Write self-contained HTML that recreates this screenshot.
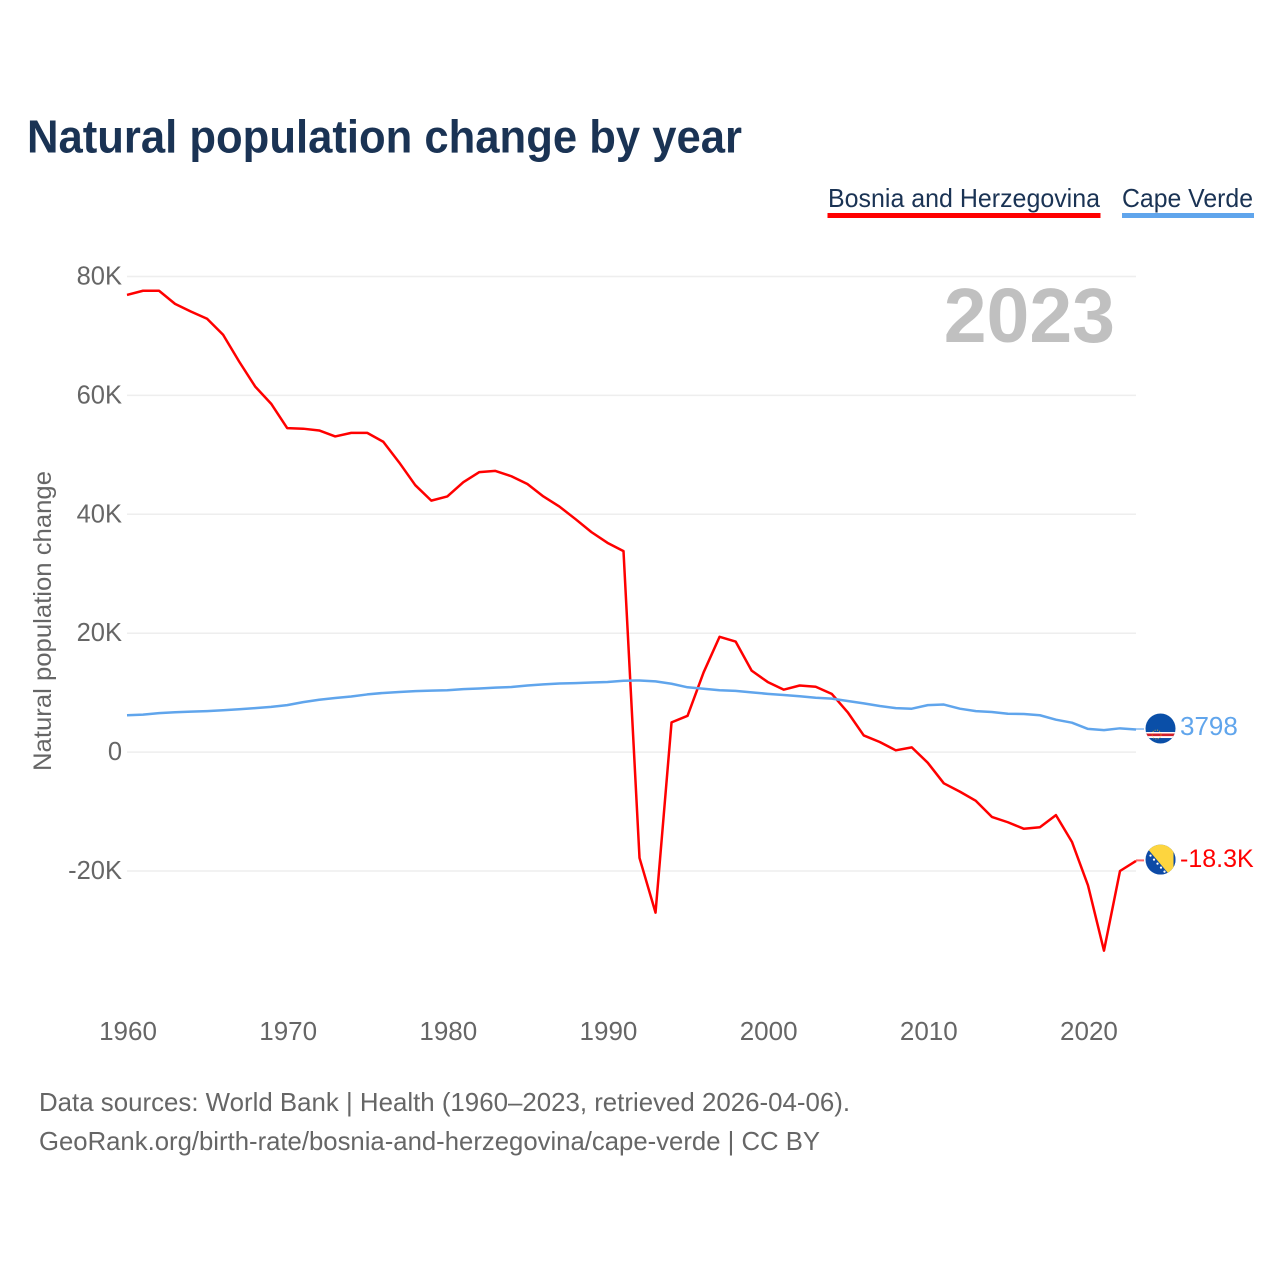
<!DOCTYPE html>
<html lang="en">
<head>
<meta charset="utf-8">
<title>Natural population change by year</title>
<style>
html,body{margin:0;padding:0;background:#fff;}
svg{display:block;}
text{font-family:"Liberation Sans",sans-serif;}
</style>
</head>
<body>
<svg id="chart" xmlns="http://www.w3.org/2000/svg" width="1280" height="1280" viewBox="0 0 1280 1280">
  <defs>
    <clipPath id="flag-clip"><circle cx="0" cy="0" r="15"/></clipPath>
  </defs>
  <rect width="1280" height="1280" fill="#ffffff"/>
  <text x="27" y="152.5" font-size="46" font-weight="700" fill="#1a3354" textLength="715" lengthAdjust="spacingAndGlyphs">Natural population change by year</text>

  <g>
    <text x="828" y="207" font-size="26" fill="#1a3354" textLength="272" lengthAdjust="spacingAndGlyphs">Bosnia and Herzegovina</text>
    <rect x="827.5" y="213" width="273" height="5" fill="#ff0000"/>
  </g>
  <g>
    <text x="1122" y="207" font-size="26" fill="#1a3354" textLength="131" lengthAdjust="spacingAndGlyphs">Cape Verde</text>
    <rect x="1122" y="213" width="132" height="5" fill="#60a5ec"/>
  </g>

  <g id="grid"></g>
  <g id="y-axis"></g>
  <g id="x-axis"></g>

  <text x="1115" y="342" font-size="77" font-weight="700" fill="#c0c0c0" text-anchor="end">2023</text>
  <text transform="translate(51,621) rotate(-90)" font-size="25" fill="#666666" text-anchor="middle" textLength="300" lengthAdjust="spacingAndGlyphs">Natural population change</text>

  <g id="series"></g>

  <g id="flag-cape-verde">
    <g clip-path="url(#flag-clip)">
      <rect x="-15" y="-15" width="30" height="30" fill="#0a4fa8"/>
      <rect x="-15" y="3.5" width="30" height="6" fill="#ffffff"/>
      <rect x="-15" y="5" width="30" height="2.6" fill="#d0202c"/>
      <circle cx="-4" cy="6" r="4.5" fill="none" stroke="#f2c230" stroke-width="0.8" stroke-dasharray="1 1.4"/>
    </g>
  </g>
  <g id="flag-bosnia">
    <g clip-path="url(#flag-clip)">
      <rect x="-15" y="-15" width="30" height="30" fill="#0d4aa6"/>
      <polygon points="-13,-11 8,14 13,14 13,-16 -13,-16" fill="#fdd53f"/>
      <rect x="13" y="-15" width="2" height="30" fill="#0d4aa6"/>
      <circle cx="-10" cy="-4" r="1.1" fill="#fff"/>
      <circle cx="-6.5" cy="0" r="1.1" fill="#fff"/>
      <circle cx="-3" cy="4" r="1.1" fill="#fff"/>
      <circle cx="0.5" cy="8" r="1.1" fill="#fff"/>
      <circle cx="4" cy="12" r="1.1" fill="#fff"/>
    </g>
  </g>
  <text id="end-label-cape-verde" x="1180" font-size="26" fill="#60a5ec"></text>
  <text id="end-label-bosnia" x="1180" font-size="25" fill="#ff0000"></text>

  <g>
    <text x="39" y="1111" font-size="26" fill="#666666" textLength="811" lengthAdjust="spacingAndGlyphs">Data sources: World Bank | Health (1960–2023, retrieved 2026-04-06).</text>
    <text x="39" y="1150" font-size="26" fill="#666666" textLength="781" lengthAdjust="spacingAndGlyphs">GeoRank.org/birth-rate/bosnia-and-herzegovina/cape-verde | CC BY</text>
  </g>
</svg>

<script>
const startYear = 1960;
const xTickYears = [1960, 1970, 1980, 1990, 2000, 2010, 2020];
const xTickLabels = ["1960", "1970", "1980", "1990", "2000", "2010", "2020"];
const yTickValues = [80000, 60000, 40000, 20000, 0, -20000];
const yTickLabels = ["80K", "60K", "40K", "20K", "0", "-20K"];
const bosniaValues = [
  76900, 77600, 77600, 75400, 74100, 72900, 70200, 65700, 61500, 58600,
  54500, 54400, 54100, 53100, 53700, 53700, 52200, 48700, 44900, 42300,
  43000, 45400, 47100, 47300, 46400, 45100, 43000, 41300, 39200, 37000,
  35200, 33800, -17800, -27000, 5000, 6100, 13400, 19400, 18600, 13700,
  11800, 10500, 11200, 11000, 9800, 6700, 2800, 1700, 300, 800,
  -1800, -5250, -6650, -8200, -10900, -11800, -12900, -12650, -10600, -15100,
  -22400, -33400, -20000, -18300
];
const capeVerdeValues = [
  6200, 6300, 6550, 6700, 6800, 6900, 7050, 7200, 7400, 7600,
  7900, 8400, 8800, 9100, 9350, 9700, 9950, 10100, 10250, 10350,
  10400, 10600, 10700, 10850, 10950, 11200, 11400, 11550, 11600, 11700,
  11800, 12000, 12050, 11900, 11500, 10900, 10650, 10400, 10300, 10050,
  9800, 9600, 9400, 9150, 9000, 8600, 8200, 7750, 7400, 7300,
  7900, 8000, 7300, 6900, 6750, 6450, 6400, 6200, 5450, 4950,
  3900, 3700, 4000, 3798
];
const endLabelBosnia = "-18.3K";
const endLabelCapeVerde = "3798";

const SVG_NS = "http://www.w3.org/2000/svg";
function xScale(year) { return 127 + (year - 1960) * 16.016; }
function yScale(value) { return 752.1 - (value / 1000) * 5.945; }
function make(tag, attrs, parent) {
  const el = document.createElementNS(SVG_NS, tag);
  for (const key in attrs) el.setAttribute(key, attrs[key]);
  parent.appendChild(el);
  return el;
}

const gridGroup = document.getElementById("grid");
const yAxisGroup = document.getElementById("y-axis");
const xAxisGroup = document.getElementById("x-axis");
const seriesGroup = document.getElementById("series");

yTickValues.forEach(function (value, i) {
  const line = make("line", { x1: 127, x2: 1136, y1: yScale(value), y2: yScale(value), stroke: "#eeeeee", "stroke-width": 1.5 }, gridGroup);
  
  
  const label = make("text", { x: 122, y: yScale(value) + 8, "font-size": 25.5, fill: "#666666", "text-anchor": "end" }, yAxisGroup);
  
  
  label.textContent = yTickLabels[i];
});

xTickYears.forEach(function (year, i) {
  const label = make("text", { x: xScale(year) + 1, y: 1040, "font-size": 26, fill: "#666666", "text-anchor": "middle" }, xAxisGroup);
  
  
  label.textContent = xTickLabels[i];
});

function pathFor(values) {
  return values.map(function (value, i) {
    return (i === 0 ? "M" : "L") + xScale(startYear + i).toFixed(2) + " " + yScale(value).toFixed(2);
  }).join(" ");
}
function lastPoint(values) {
  return { x: xScale(startYear + values.length - 1), y: yScale(values[values.length - 1]) };
}

const bosniaLine = make("path", { d: pathFor(bosniaValues), fill: "none", stroke: "#ff0000", "stroke-width": 2.5, "stroke-linejoin": "round" }, seriesGroup);



const capeVerdeLine = make("path", { d: pathFor(capeVerdeValues), fill: "none", stroke: "#60a5ec", "stroke-width": 2.5, "stroke-linejoin": "round" }, seriesGroup);



const bosniaEnd = lastPoint(bosniaValues);
const capeVerdeEnd = lastPoint(capeVerdeValues);

const bosniaStub = make("line", { x1: bosniaEnd.x, x2: bosniaEnd.x + 8, y1: bosniaEnd.y - 0.5, y2: bosniaEnd.y - 0.5, stroke: "#ff0000", "stroke-width": 2, "stroke-opacity": 0.6 }, seriesGroup);



const capeVerdeStub = make("line", { x1: capeVerdeEnd.x, x2: capeVerdeEnd.x + 8, y1: capeVerdeEnd.y - 0.5, y2: capeVerdeEnd.y - 0.5, stroke: "#60a5ec", "stroke-width": 2, "stroke-opacity": 0.6 }, seriesGroup);



document.getElementById("flag-bosnia").setAttribute("transform", "translate(" + (bosniaEnd.x + 24.5) + "," + (bosniaEnd.y - 1.3) + ")");
document.getElementById("flag-cape-verde").setAttribute("transform", "translate(" + (capeVerdeEnd.x + 24.5) + "," + (capeVerdeEnd.y - 1) + ")");

const bosniaLabel = document.getElementById("end-label-bosnia");
bosniaLabel.setAttribute("y", bosniaEnd.y + 6);
bosniaLabel.textContent = endLabelBosnia;

const capeVerdeLabel = document.getElementById("end-label-cape-verde");
capeVerdeLabel.setAttribute("y", capeVerdeEnd.y + 5.5);
capeVerdeLabel.textContent = endLabelCapeVerde;
</script>
</body>
</html>
